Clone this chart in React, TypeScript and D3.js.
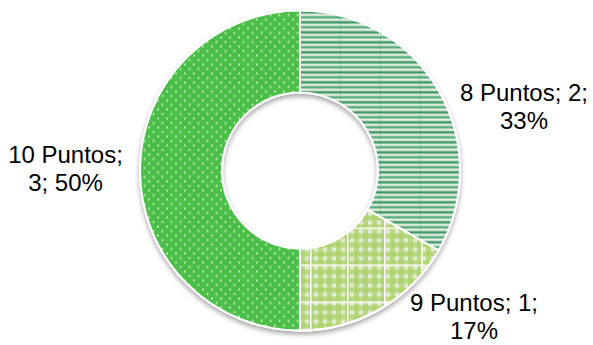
import React from "react";
import * as d3 from "d3";

const categories = ["8 Puntos", "9 Puntos", "10 Puntos"];
const values = [2, 1, 3];
const percents = ["33%", "17%", "50%"];

const W = 593;
const H = 345;
const cx = 300;
const cy = 170.5;
const outerR = 160;
const innerR = 78;

// label layout (line 1 / line 2), positioned relative to the chart centre
const labelLines = [
  [`${categories[0]}; ${values[0]};`, percents[0]],
  [`${categories[1]}; ${values[1]};`, percents[1]],
  [`${categories[2]};`, `${values[2]}; ${percents[2]}`],
];
const labelLayout = [
  { dx: 224, dy: -69.5 },
  { dx: 174, dy: 140 },
  { dx: -234.5, dy: -8 },
];
const fills = ["url(#stripes)", "url(#gingham)", "url(#dots)"];

export default function App() {
  const pie = d3
    .pie<number>()
    .sort(null)
    .value((d) => d)
    .startAngle(0)
    .endAngle(2 * Math.PI);
  const arcs = pie(values);
  const arc = d3.arc<d3.PieArcDatum<number>>().innerRadius(innerR).outerRadius(outerR);

  return (
    <svg
      width={W}
      height={H}
      style={{ position: "absolute", left: 0, top: 0, background: "#fff" }}
      fontFamily="'Liberation Sans', Arial, sans-serif"
    >
      <defs>
        <pattern id="stripes" patternUnits="userSpaceOnUse" width="40" height="10">
          <rect width="40" height="10" fill="#f4f2e3" />
          <rect y="0.5" width="40" height="2.6" fill="#3f9a6c" />
          <rect y="5.5" width="40" height="2.6" fill="#52ad80" />
          <rect y="3.1" width="40" height="0.8" fill="#b8d8c0" opacity="0.6" />
          <rect x="0" width="1" height="10" fill="#2f8358" opacity="0.2" />
        </pattern>
        <pattern id="gingham" patternUnits="userSpaceOnUse" width="9" height="9">
          <rect width="9" height="9" fill="#e4e9d6" />
          <rect y="0" width="9" height="5" fill="#a9d366" opacity="0.75" />
          <rect x="0" width="5" height="9" fill="#a9d366" opacity="0.75" />
        </pattern>
        <pattern id="gridlines" patternUnits="userSpaceOnUse" width="37" height="37" x="306" y="205">
          <rect x="0" y="0" width="37" height="1.5" fill="#ffffff" />
          <rect x="0" y="0" width="1.5" height="37" fill="#ffffff" />
        </pattern>
        <pattern id="dots" patternUnits="userSpaceOnUse" width="9" height="9">
          <rect width="9" height="9" fill="#4cbf48" />
          <circle cx="2" cy="2" r="1" fill="#d6f5c4" />
          <circle cx="6.5" cy="6.5" r="1" fill="#d6f5c4" />
        </pattern>
        <filter id="shadow" x="-20%" y="-20%" width="140%" height="140%">
          <feDropShadow dx="0" dy="3" stdDeviation="2.5" floodColor="#000" floodOpacity="0.35" />
        </filter>
      </defs>
      <g transform={`translate(${cx},${cy})`}>
        <g filter="url(#shadow)">
          {arcs.map((a, i) => (
            <path key={categories[i]} d={arc(a) || ""} fill={fills[i]} stroke="#fff" strokeWidth={2} />
          ))}
        </g>
        <path d={arc(arcs[1]) || ""} fill="url(#gridlines)" stroke="#fff" strokeWidth={2} />
        {arcs.map((a, i) => (
          <text
            key={"l" + categories[i]}
            x={labelLayout[i].dx}
            y={labelLayout[i].dy}
            textAnchor="middle"
            fontSize={24}
            fill="#000"
          >
            <tspan x={labelLayout[i].dx}>{labelLines[i][0]}</tspan>
            <tspan x={labelLayout[i].dx} dy={28}>
              {labelLines[i][1]}
            </tspan>
          </text>
        ))}
      </g>
    </svg>
  );
}
